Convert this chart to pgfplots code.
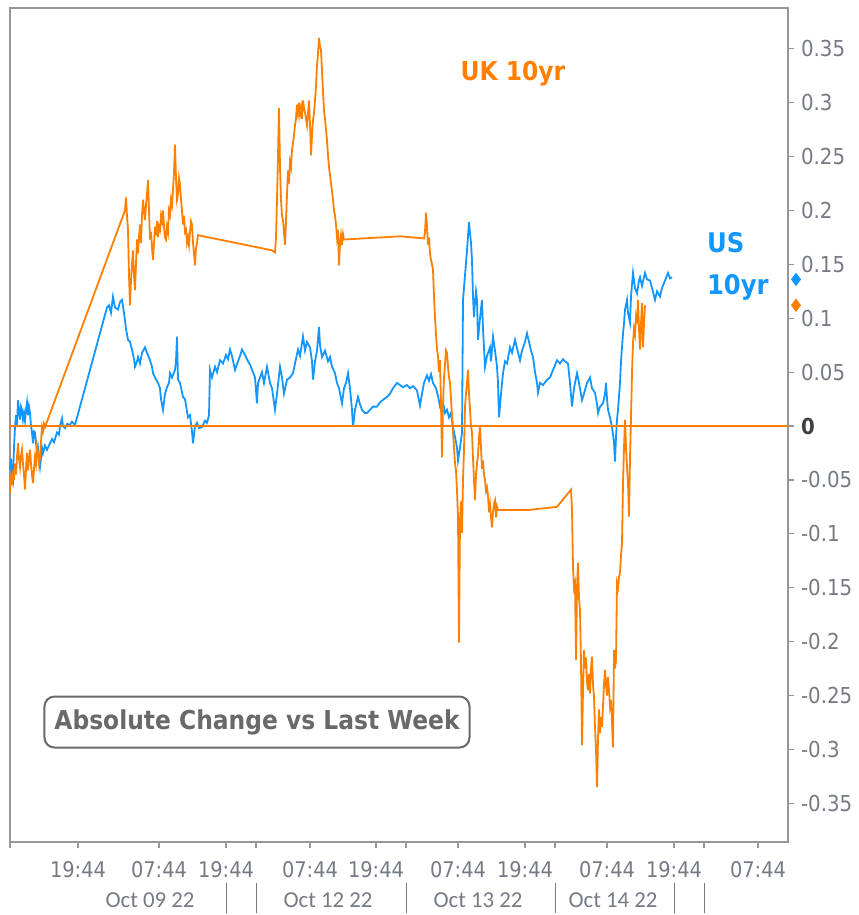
\documentclass[border=0pt]{standalone}
\usepackage{pgfplots}
\pgfplotsset{compat=1.18}
\usepackage{pgfplotstable}
\usepackage{fontspec}
\IfFontExistsTF{DejaVu Sans Condensed}{\setmainfont{DejaVu Sans Condensed}}{\setmainfont{DejaVu Sans}[FakeStretch=0.88]}
\newfontfamily\datefont{Carlito}
\definecolor{ukorange}{RGB}{255,128,0}
\definecolor{usblue}{RGB}{20,150,255}
\definecolor{ticktext}{RGB}{118,122,132}
\definecolor{axisgray}{RGB}{150,150,150}
\definecolor{boxgray}{RGB}{105,105,105}

\pgfplotstableread{
x y
10 -0.062
11 -0.045
12 -0.055
13 -0.041
14 -0.050
15 -0.035
16 -0.045
17 -0.029
18 -0.016
19 -0.030
20 -0.038
21 -0.028
22 -0.022
23 -0.035
24 -0.045
25 -0.059
26 -0.040
27 -0.025
28 -0.041
29 -0.032
30 -0.022
31 -0.035
32 -0.045
33 -0.053
34 -0.040
35 -0.029
36 -0.035
37 -0.019
38 -0.025
39 -0.035
40 -0.029
41 -0.015
42 -0.001
43 -0.005
44 0.002
45 -0.001
125 0.200
126 0.212
127 0.195
128 0.182
129 0.140
130 0.112
131 0.135
132 0.150
133 0.163
134 0.140
135 0.126
136 0.150
137 0.173
138 0.160
139 0.175
140 0.187
141 0.170
142 0.195
143 0.210
144 0.200
145 0.191
146 0.205
147 0.215
148 0.228
149 0.200
150 0.173
151 0.180
152 0.165
153 0.154
154 0.170
155 0.185
156 0.177
157 0.190
158 0.175
159 0.185
160 0.182
161 0.195
162 0.190
163 0.200
164 0.185
165 0.175
166 0.173
167 0.185
168 0.180
169 0.200
170 0.196
171 0.210
172 0.205
173 0.219
174 0.235
175 0.261
176 0.230
177 0.210
178 0.215
179 0.230
180 0.224
181 0.210
182 0.200
183 0.187
184 0.195
185 0.180
186 0.182
187 0.170
188 0.175
189 0.168
190 0.180
191 0.190
192 0.187
193 0.170
194 0.160
195 0.149
196 0.165
197 0.170
198 0.177
272 0.163
275 0.161
276 0.175
277 0.210
278 0.250
279 0.295
280 0.240
281 0.210
282 0.195
283 0.191
284 0.180
285 0.168
286 0.190
287 0.215
288 0.237
289 0.225
290 0.245
291 0.240
292 0.256
293 0.262
294 0.270
295 0.279
296 0.285
297 0.298
298 0.290
299 0.300
300 0.289
301 0.295
302 0.285
303 0.302
304 0.295
305 0.291
306 0.285
307 0.279
308 0.290
309 0.302
310 0.280
311 0.251
312 0.270
313 0.284
314 0.290
315 0.302
316 0.315
317 0.335
318 0.345
319 0.360
320 0.352
321 0.349
322 0.330
323 0.310
324 0.293
325 0.285
326 0.275
327 0.265
328 0.251
329 0.240
330 0.233
331 0.225
332 0.218
333 0.210
334 0.200
335 0.195
336 0.187
337 0.175
338 0.182
339 0.149
340 0.170
341 0.177
342 0.168
343 0.178
344 0.173
400 0.176
424 0.174
425 0.180
426 0.198
427 0.185
428 0.168
429 0.175
430 0.160
431 0.154
432 0.150
433 0.145
434 0.120
435 0.101
436 0.085
437 0.071
438 0.065
439 0.050
440 0.061
441 0.020
442 -0.029
443 0.020
444 0.045
445 0.057
446 0.070
447 0.068
448 0.055
449 0.045
450 0.040
451 0.025
452 0.010
453 -0.006
454 -0.020
455 -0.035
456 -0.041
457 -0.060
458 -0.084
459 -0.201
460 -0.087
461 -0.070
462 -0.099
463 -0.050
464 -0.022
465 0.018
466 0.030
467 0.040
468 0.052
469 0.030
470 0.015
471 0.000
472 -0.006
473 -0.030
474 -0.050
475 -0.069
476 -0.045
477 -0.035
478 -0.027
479 -0.010
480 -0.001
481 -0.020
482 -0.040
483 -0.032
484 -0.045
485 -0.050
486 -0.060
487 -0.057
488 -0.065
489 -0.080
490 -0.073
491 -0.085
492 -0.094
493 -0.080
494 -0.072
495 -0.069
496 -0.085
497 -0.075
498 -0.078
527 -0.078
557 -0.075
571 -0.059
572 -0.078
573 -0.131
574 -0.150
575 -0.146
576 -0.217
577 -0.150
578 -0.127
579 -0.160
580 -0.171
581 -0.220
582 -0.296
583 -0.245
584 -0.208
585 -0.225
586 -0.215
587 -0.238
588 -0.245
589 -0.230
590 -0.248
591 -0.225
592 -0.214
593 -0.240
594 -0.251
595 -0.280
596 -0.300
597 -0.335
598 -0.290
599 -0.263
600 -0.285
601 -0.270
602 -0.279
603 -0.260
604 -0.240
605 -0.226
606 -0.240
607 -0.250
608 -0.233
609 -0.245
610 -0.260
611 -0.254
612 -0.275
613 -0.298
614 -0.208
615 -0.225
616 -0.217
617 -0.146
618 -0.150
619 -0.140
620 -0.136
621 -0.120
622 -0.109
623 -0.053
624 -0.020
625 0.006
626 -0.020
627 -0.038
628 -0.053
629 -0.084
630 -0.030
631 0.008
632 0.049
633 0.077
634 0.090
635 0.085
636 0.101
637 0.095
638 0.117
639 0.090
640 0.071
641 0.095
642 0.114
643 0.073
644 0.095
645 0.112
}\uktable

\pgfplotstableread{
x y
10 -0.041
11 -0.030
12 -0.045
13 -0.050
14 -0.020
15 -0.001
16 0.010
17 0.000
18 0.024
19 0.015
20 0.006
21 0.018
22 0.015
23 0.006
24 0.012
25 0.005
26 0.015
27 0.022
28 0.010
29 0.018
30 0.012
31 0.000
32 -0.006
33 -0.016
34 -0.005
35 -0.006
36 -0.015
37 -0.025
38 -0.020
39 -0.030
40 -0.038
41 -0.030
42 -0.020
43 -0.025
45 -0.018
47 -0.022
50 -0.016
52 -0.012
54 -0.015
57 -0.006
59 -0.008
60 0.000
62 0.007
63 0.000
65 -0.002
67 0.002
70 0.001
72 0.004
75 0.001
107 0.110
109 0.112
111 0.105
113 0.120
115 0.110
118 0.108
120 0.115
122 0.117
124 0.105
125 0.098
126 0.090
128 0.080
130 0.078
132 0.071
134 0.062
135 0.055
137 0.060
138 0.064
140 0.058
142 0.068
145 0.073
147 0.068
150 0.061
152 0.055
153 0.049
155 0.045
158 0.040
160 0.035
161 0.025
163 0.015
165 0.030
167 0.036
169 0.040
170 0.049
172 0.045
175 0.052
176 0.060
177 0.083
178 0.043
180 0.040
183 0.027
185 0.025
188 0.008
190 0.010
192 -0.005
193 -0.016
195 0.000
197 0.003
199 -0.002
202 -0.001
205 0.005
207 0.003
209 0.010
210 0.052
212 0.045
215 0.055
217 0.050
220 0.061
223 0.058
226 0.066
228 0.062
230 0.071
232 0.065
235 0.052
238 0.060
240 0.065
242 0.071
245 0.066
248 0.060
250 0.057
253 0.050
255 0.045
257 0.021
258 0.040
260 0.045
262 0.050
264 0.040
267 0.055
268 0.050
270 0.040
272 0.035
275 0.015
277 0.030
280 0.055
282 0.045
284 0.030
287 0.043
290 0.045
293 0.049
295 0.058
298 0.071
300 0.065
303 0.083
305 0.070
307 0.078
310 0.073
312 0.060
313 0.043
315 0.060
317 0.070
319 0.092
320 0.075
322 0.064
325 0.070
328 0.060
330 0.064
332 0.055
335 0.049
337 0.040
339 0.035
342 0.021
344 0.035
346 0.040
348 0.049
350 0.035
352 0.015
353 -0.001
355 0.015
358 0.027
360 0.020
362 0.015
365 0.012
367 0.012
370 0.015
373 0.018
377 0.018
380 0.022
384 0.025
387 0.027
390 0.030
393 0.035
397 0.040
400 0.038
403 0.036
407 0.038
410 0.035
413 0.037
417 0.033
420 0.019
422 0.030
424 0.040
427 0.047
429 0.042
431 0.048
433 0.040
436 0.035
438 0.028
440 0.018
443 0.022
445 0.012
447 0.015
449 0.008
451 0.012
453 -0.001
455 -0.010
457 -0.020
458 -0.032
460 -0.020
462 -0.006
463 0.117
465 0.140
467 0.163
469 0.189
471 0.170
472 0.154
473 0.120
474 0.101
475 0.115
476 0.125
477 0.117
478 0.080
480 0.100
482 0.117
483 0.090
485 0.055
487 0.065
490 0.073
491 0.060
493 0.083
495 0.070
497 0.055
498 0.040
499 0.008
501 0.030
503 0.049
505 0.060
507 0.058
510 0.073
512 0.068
515 0.080
517 0.072
520 0.061
522 0.070
525 0.078
527 0.086
529 0.078
531 0.070
533 0.064
535 0.050
537 0.040
538 0.031
540 0.040
543 0.038
547 0.043
550 0.045
553 0.052
557 0.061
560 0.058
563 0.062
565 0.060
568 0.058
570 0.040
572 0.018
574 0.035
577 0.049
579 0.040
582 0.024
584 0.030
587 0.040
590 0.045
592 0.035
595 0.031
597 0.020
598 0.012
600 0.018
603 0.021
605 0.030
606 0.040
607 0.025
608 0.015
610 0.008
612 -0.001
614 -0.015
615 -0.033
616 -0.010
617 0.006
618 0.015
620 0.040
621 0.060
623 0.086
624 0.095
625 0.108
627 0.117
628 0.105
630 0.096
631 0.120
633 0.142
635 0.128
637 0.123
639 0.135
640 0.138
642 0.130
645 0.142
647 0.136
650 0.135
652 0.128
655 0.117
657 0.125
660 0.120
662 0.128
665 0.135
668 0.142
670 0.137
672 0.138
}\ustable

\begin{document}
\begin{tikzpicture}
\path[use as bounding box] (-5pt,-36.5pt) rectangle (424pt,421pt);
\begin{axis}[
  scale only axis, width=389pt, height=417pt,
  xmin=10, xmax=788, ymin=-0.3859, ymax=0.3878,
  clip=false,
  axis line style={axisgray, line width=0.8pt},
  xtick pos=left, ytick pos=right,
  tick align=outside, major tick length=3pt,
  tick style={axisgray, line width=0.6pt},
  xtick={10,78,159,226,256,310,376,406,458,525,555,607,674,704,758},
  xticklabels={{},19:44,07:44,19:44,{},07:44,19:44,{},07:44,19:44,{},07:44,19:44,{},07:44},
  xticklabel style={font=\fontsize{10.8}{12}\selectfont, text=ticktext, yshift=-3pt},
  ytick={-0.35,-0.3,-0.25,-0.2,-0.15,-0.1,-0.05,0,0.05,0.1,0.15,0.2,0.25,0.3,0.35},
  yticklabels={-0.35,-0.3,-0.25,-0.2,-0.15,-0.1,-0.05,{\textbf{\textcolor{black!75}{0}}},0.05,0.1,0.15,0.2,0.25,0.3,0.35},
  yticklabel style={font=\fontsize{11}{13}\selectfont, text=ticktext},
]
\addplot[usblue, line width=0.9pt] table[x=x,y=y] {\ustable};
\addplot[ukorange, line width=0.9pt] table[x=x,y=y] {\uktable};
\addplot[ukorange, line width=1pt] coordinates {(10,0) (788,0)};
\addplot[only marks, mark=diamond*, mark size=3pt, usblue] coordinates {(796,0.136)};
\addplot[only marks, mark=diamond*, mark size=3pt, ukorange] coordinates {(796,0.112)};

\pgfplotsinvokeforeach{226,256,406,555,674,704}{
  \draw[ticktext, line width=0.5pt] ([yshift=-20.5pt]axis cs:#1,-0.3859) -- ([yshift=-35.5pt]axis cs:#1,-0.3859);
}
\node[font=\datefont\fontsize{11.4}{13}\selectfont, text=ticktext] at ([yshift=-29pt]axis cs:150,-0.3859) {Oct 09 22};
\node[font=\datefont\fontsize{11.4}{13}\selectfont, text=ticktext] at ([yshift=-29pt]axis cs:328,-0.3859) {Oct 12 22};
\node[font=\datefont\fontsize{11.4}{13}\selectfont, text=ticktext] at ([yshift=-29pt]axis cs:478,-0.3859) {Oct 13 22};
\node[font=\datefont\fontsize{11.4}{13}\selectfont, text=ticktext] at ([yshift=-29pt]axis cs:613,-0.3859) {Oct 14 22};

\node[font=\bfseries\fontsize{13}{15}\selectfont, text=ukorange] at (axis cs:513,0.3265) {UK 10yr};
\node[font=\bfseries\fontsize{13.5}{21}\selectfont, text=usblue, align=left, anchor=west] at (axis cs:700,0.148) {US\\10yr};
\node[draw=boxgray, line width=1pt, rounded corners=5pt, minimum width=212.5pt, minimum height=25.5pt,
      font=\bfseries\fontsize{13}{15}\selectfont, text=boxgray] at (axis cs:257,-0.2746) {Absolute Change vs Last Week};
\end{axis}
\end{tikzpicture}
\end{document}
